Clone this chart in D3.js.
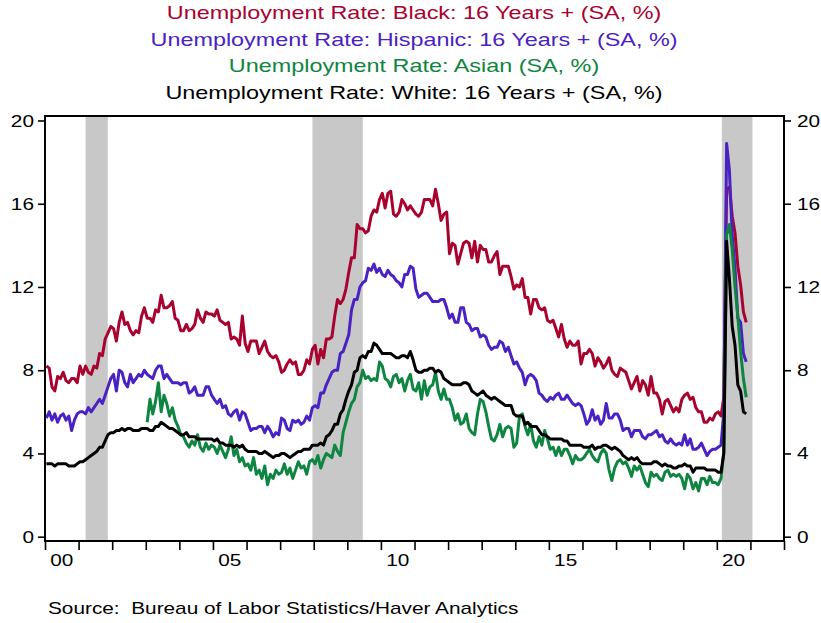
<!DOCTYPE html>
<html><head><meta charset="utf-8">
<script src="https://cdn.jsdelivr.net/npm/d3@7"></script>
<style>body{margin:0;background:#fff}svg{display:block}text{white-space:pre}</style>
</head><body>
<svg id="chart" width="821" height="623"></svg>
<script>
// ---- Data (monthly, SA, %) ----
const blackStart = 2000;
const black = [
8.2,8.1,7.2,7.0,7.7,7.6,7.9,7.5,7.4,7.6,7.6,7.4,
8.2,7.8,8.2,7.9,7.8,8.2,8.1,8.8,8.7,9.5,9.8,10.1,
10.0,9.4,10.3,10.8,10.2,10.3,9.9,9.7,9.9,9.8,10.6,11.0,
10.5,10.5,10.3,10.9,10.8,11.6,11.0,11.0,11.1,11.3,10.5,10.4,
9.9,9.9,10.2,9.9,10.0,10.2,10.9,10.5,10.3,10.8,10.7,10.7,
10.6,10.9,10.4,10.3,10.2,10.3,9.5,9.6,9.5,9.2,10.6,9.3,
8.9,9.4,9.4,9.4,8.8,9.1,9.4,8.9,8.7,8.6,8.7,8.4,
7.9,8.0,8.3,8.5,8.3,8.4,7.8,7.8,8.0,8.5,8.3,9.0,
9.2,8.3,9.0,8.6,9.5,9.5,9.6,10.6,11.4,11.2,11.4,11.9,
12.7,13.4,13.4,15.0,14.8,14.8,14.6,14.7,15.4,15.7,15.6,16.2,
16.5,15.8,16.5,16.6,15.5,15.4,15.6,16.2,16.0,15.7,15.9,15.7,
15.5,15.4,15.6,16.2,16.2,16.2,15.9,16.7,16.0,15.2,15.5,15.6,
13.6,14.1,14.0,13.1,13.6,14.1,14.2,14.1,13.4,14.2,13.2,14.0,
13.8,13.8,13.2,13.2,13.5,13.7,12.6,13.0,13.0,13.0,12.5,11.9,
12.1,12.0,12.4,11.5,11.5,10.7,11.4,11.4,11.0,10.9,11.0,10.4,
10.3,10.4,10.0,9.6,10.2,9.5,9.1,9.4,9.2,9.2,9.4,8.3,
8.8,8.8,9.0,8.8,8.2,8.6,8.4,8.1,8.3,8.6,8.0,7.8,
7.7,8.1,8.0,7.9,7.5,7.1,7.4,7.7,7.0,7.5,7.3,6.8,
7.7,6.9,6.9,6.6,5.9,6.5,6.6,6.3,6.0,6.2,6.0,6.6,
6.8,6.9,6.6,6.7,6.2,6.0,6.0,5.5,5.5,5.7,5.6,5.9,
6.0,5.8,6.7,16.7,16.8,15.4,14.6,13.0,12.1,10.8,10.3];

const hispanicStart = 2000;
const hispanic = [
5.7,6.0,5.6,5.9,5.5,5.8,5.9,5.6,5.8,5.1,5.6,5.9,
6.0,6.0,5.9,6.2,6.0,6.2,6.4,6.6,6.4,6.8,7.2,7.6,
7.8,7.0,8.0,7.9,7.4,7.2,7.8,7.4,7.6,7.8,7.7,8.0,
7.8,7.7,7.6,8.0,8.2,8.2,7.6,7.8,7.6,7.4,7.4,7.4,
7.3,7.4,7.4,6.9,7.0,7.2,6.8,6.8,6.8,7.2,7.2,6.8,
6.6,6.4,6.6,6.2,6.3,5.9,5.8,6.0,6.1,5.6,6.0,5.9,
5.5,5.1,5.2,5.2,5.3,5.3,5.0,5.3,5.1,4.8,5.0,4.9,
5.7,5.6,5.2,5.1,5.6,5.5,5.6,5.4,5.5,5.8,5.6,6.2,
6.3,6.2,6.9,6.9,7.3,7.6,7.9,8.0,8.0,8.8,8.9,9.3,
9.7,10.9,11.4,11.4,12.0,12.2,12.3,12.9,12.8,13.1,12.7,12.9,
12.6,12.5,12.8,12.6,12.5,12.3,12.2,12.0,12.6,12.6,13.0,12.9,
11.9,11.5,11.6,11.7,11.7,11.5,11.3,11.3,11.3,11.4,11.4,11.0,
10.5,10.7,10.3,10.3,11.0,11.0,10.3,10.2,9.9,10.0,10.0,9.6,
9.7,9.6,9.2,9.0,9.1,9.1,9.4,9.3,8.9,9.1,8.7,8.3,
8.4,8.1,7.9,7.3,7.7,7.8,7.7,7.5,6.9,6.8,6.6,6.5,
6.7,6.6,6.8,6.9,6.6,6.6,6.8,6.6,6.4,6.3,6.4,6.3,
5.9,5.4,5.6,6.1,5.6,5.8,5.4,5.6,6.4,5.7,5.7,5.9,
5.9,5.6,5.1,5.2,5.2,4.8,5.1,5.1,5.1,4.8,4.7,4.9,
4.9,5.0,5.1,4.8,4.9,4.6,4.5,4.7,4.5,4.4,4.5,4.4,
4.9,4.4,4.7,4.2,4.2,4.3,4.5,4.2,3.9,4.1,4.2,4.2,
4.3,4.4,6.0,18.9,17.6,14.5,12.9,10.5,10.3,8.8,8.4];

const asianStart = 2003;
const asian = [
5.5,6.6,5.9,6.5,7.4,6.0,6.8,6.4,5.8,6.2,5.6,5.3,
4.9,4.8,4.5,4.3,4.6,4.4,4.9,4.3,4.1,4.5,4.2,4.4,
4.3,4.0,4.4,4.1,3.8,4.2,4.8,3.9,4.2,3.6,3.8,3.4,
3.5,3.2,3.8,3.0,3.2,2.8,3.4,2.5,3.0,2.8,3.2,3.0,
3.1,3.5,3.0,3.3,2.8,3.2,3.6,3.3,3.4,3.0,3.6,3.7,
3.5,3.9,3.3,3.7,4.0,3.9,3.8,4.4,4.1,3.9,5.0,5.5,
6.0,6.4,6.6,7.2,7.4,8.0,7.6,7.7,7.5,7.6,7.5,8.4,
8.2,7.6,7.5,7.2,7.7,7.8,7.4,7.6,7.0,7.5,7.8,7.1,
7.0,7.4,6.6,7.5,6.8,7.2,7.3,7.9,7.0,6.6,7.1,6.6,
6.6,6.2,5.6,5.9,5.4,5.5,5.9,5.2,5.0,4.9,5.9,6.6,
6.5,6.0,5.3,4.7,4.6,4.9,5.4,4.8,5.2,5.3,5.2,4.3,
4.5,5.8,5.9,5.3,4.9,5.4,4.6,4.3,4.8,4.4,5.1,4.7,
4.2,4.3,3.9,4.3,3.9,4.2,4.2,3.9,3.5,3.9,3.7,3.7,
3.8,4.0,4.2,3.9,3.7,3.6,4.0,4.2,4.0,3.2,2.7,3.3,
3.6,3.7,3.5,3.6,3.3,2.9,3.4,3.2,3.4,3.0,2.6,2.4,
3.1,2.9,3.0,2.8,2.7,3.1,3.2,2.9,3.0,2.9,3.0,2.8,
2.3,3.0,2.8,2.3,2.6,2.2,2.8,2.8,2.5,2.9,2.6,2.6,
2.5,2.8,4.1,14.5,15.0,13.8,12.0,10.6,8.9,7.6,6.7];

const whiteStart = 2000;
const white = [
3.5,3.5,3.5,3.4,3.5,3.5,3.5,3.5,3.4,3.4,3.4,3.5,
3.6,3.6,3.7,3.8,3.9,4.0,4.1,4.3,4.3,4.6,4.9,5.0,
5.0,5.1,5.1,5.2,5.1,5.2,5.2,5.1,5.1,5.1,5.2,5.2,
5.2,5.1,5.1,5.3,5.3,5.5,5.4,5.3,5.2,5.2,5.1,5.0,
4.9,4.9,5.0,4.8,4.8,4.8,4.7,4.7,4.7,4.7,4.7,4.7,
4.6,4.7,4.5,4.5,4.4,4.4,4.4,4.3,4.4,4.3,4.4,4.2,
4.1,4.1,4.1,4.1,4.0,4.0,4.1,4.0,3.9,3.8,3.9,3.9,
4.0,4.0,3.9,3.8,3.9,4.0,4.1,4.1,4.2,4.2,4.2,4.4,
4.4,4.4,4.5,4.4,4.8,4.9,5.1,5.4,5.4,5.9,6.1,6.6,
7.0,7.3,7.9,8.0,8.6,8.7,8.6,8.9,8.9,9.3,9.2,9.0,
8.8,8.8,8.8,8.8,8.7,8.6,8.6,8.7,8.7,8.6,8.9,8.5,
8.0,7.9,7.9,8.0,8.0,8.1,8.1,7.9,8.0,7.9,7.6,7.5,
7.4,7.3,7.3,7.3,7.3,7.4,7.4,7.3,7.0,6.9,6.8,6.9,
7.0,6.8,6.7,6.6,6.7,6.6,6.5,6.4,6.3,6.3,6.3,5.9,
5.8,5.8,5.8,5.4,5.5,5.3,5.3,5.3,5.1,4.9,4.9,4.8,
4.7,4.7,4.7,4.7,4.7,4.6,4.6,4.4,4.4,4.4,4.4,4.4,
4.3,4.3,4.3,4.4,4.2,4.3,4.3,4.4,4.4,4.3,4.2,4.3,
4.2,4.1,3.9,3.8,3.7,3.8,3.7,3.8,3.6,3.5,3.5,3.5,
3.5,3.6,3.6,3.5,3.4,3.5,3.4,3.4,3.3,3.3,3.4,3.4,
3.5,3.4,3.4,3.1,3.3,3.3,3.3,3.3,3.2,3.2,3.2,3.2,
3.1,3.1,4.0,14.2,12.4,10.1,9.2,7.3,7.0,6.0,5.9];

const seriesNames = [
  "Unemployment Rate: Black: 16 Years + (SA, %)",
  "Unemployment Rate: Hispanic: 16 Years + (SA, %)",
  "Unemployment Rate: Asian (SA, %)",
  "Unemployment Rate: White: 16 Years + (SA, %)"
];
const seriesColors = ["#A8032F", "#4A22C4", "#0E8540", "#000000"];
const yTicks = [0, 4, 8, 12, 16, 20];
const xTickYears = d3.range(2000, 2023);
const xLabelYears = [2000, 2005, 2010, 2015, 2020];
const xLabels = ["00", "05", "10", "15", "20"];
const recessions = [[2001.21, 2001.87], [2007.96, 2009.46], [2020.15, 2021.06]];
const sourceText = "Source:  Bureau of Labor Statistics/Haver Analytics";

// ---- Layout ----
const svg = d3.select("#chart");
const FL = 45, FR = 784, FT = 116, FB = 541;
const x = d3.scaleLinear().domain([2000, 2022]).range([FL, FR]);
const y = d3.scaleLinear().domain([0, 20]).range([536.7, 120.5]);
const SX = 1.3;
const FONT = "'Liberation Sans', Arial, sans-serif";

function stext(px, py, str, anchor, size, color) {
  return svg.append("text")
    .attr("transform", `translate(${px},${py}) scale(${SX},1)`)
    .attr("text-anchor", anchor)
    .attr("font-family", FONT)
    .attr("font-size", size)
    .attr("fill", color)
    .attr("xml:space", "preserve")
    .text(str);
}

// recession shading
svg.append("g").selectAll("rect").data(recessions).join("rect")
  .attr("x", d => x(d[0])).attr("width", d => x(d[1]) - x(d[0]))
  .attr("y", FT).attr("height", FB - FT)
  .attr("fill", "#C8C8C8");

// series
const toPts = (arr, start) => arr.map((v, i) => ({t: start + (i + 0.5) / 12, v}));
const series = [
  toPts(black, blackStart),
  toPts(hispanic, hispanicStart),
  toPts(asian, asianStart),
  toPts(white, whiteStart)
];
const line = d3.line().x(d => x(d.t)).y(d => y(d.v)).curve(d3.curveLinear);
svg.append("g").selectAll("path").data(series).join("path")
  .attr("d", line).attr("fill", "none")
  .attr("stroke", (d, i) => seriesColors[i])
  .attr("stroke-width", 3).attr("stroke-linejoin", "round");

// frame
svg.append("rect").attr("x", FL).attr("y", FT).attr("width", FR - FL).attr("height", FB - FT)
  .attr("fill", "none").attr("stroke", "#000").attr("stroke-width", 2);

// y axes (ticks)
const yl = svg.append("g").attr("transform", `translate(${FL},0)`)
  .call(d3.axisLeft(y).tickValues(yTicks).tickSize(7).tickFormat(""));
const yr = svg.append("g").attr("transform", `translate(${FR},0)`)
  .call(d3.axisRight(y).tickValues(yTicks).tickSize(7).tickFormat(""));
// x axis ticks
const xa = svg.append("g").attr("transform", `translate(0,${FB})`)
  .call(d3.axisBottom(x).tickValues(xTickYears).tickSize(9).tickFormat(""));
[yl, yr, xa].forEach(g => {
  g.select(".domain").remove();
  g.selectAll(".tick line").attr("stroke", "#000").attr("stroke-width", 1.6);
});

// tick labels
yTicks.forEach(v => {
  stext(34, y(v) + 6, String(v), "end", 16, "#000");
  stext(797, y(v) + 6, String(v), "start", 16, "#000");
});
xLabelYears.forEach((yr_, i) => {
  stext(x(yr_ + 0.5), 566, xLabels[i], "middle", 16, "#000");
});

// titles
const titleY = [19, 45.5, 72, 98.5];
seriesNames.forEach((s, i) => stext(414, titleY[i], s, "middle", 18, seriesColors[i]));

// source
stext(48, 614, sourceText, "start", 16, "#000");
</script>
</body></html>
